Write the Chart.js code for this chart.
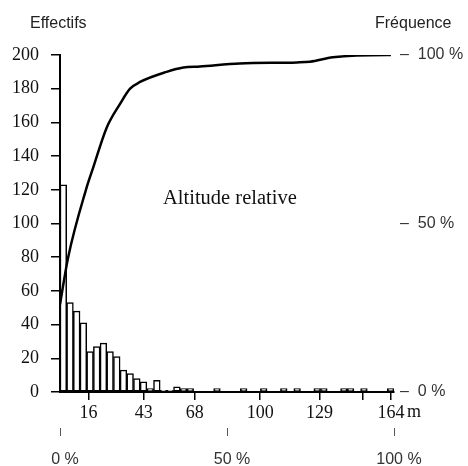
<!DOCTYPE html>
<html>
<head>
<meta charset="utf-8">
<script src="https://cdn.jsdelivr.net/npm/chart.js@4/dist/chart.umd.min.js"></script>
<style>
  html, body { margin: 0; padding: 0; background: #fff; }
  .wrap { position: relative; width: 468px; height: 466px; }
  canvas { position: absolute; left: 0; top: 0; }
  .lbl { position: absolute; font-family: 'Liberation Sans', sans-serif; font-size: 16px; line-height: 16px; color: #222; white-space: nowrap; }
  .mid { position: absolute; font-family: 'Liberation Serif', serif; font-size: 20.5px; line-height: 20px; color: #111; white-space: nowrap; }
</style>
</head>
<body>
<div class="wrap">
  <canvas id="histo" width="468" height="466"></canvas>
  <div class="lbl" style="left:30px; top:15px;">Effectifs</div>
  <div class="lbl" style="left:375px; top:15px;">Fréquence</div>
  <div class="mid" style="left:163px; top:187px;">Altitude relative</div>
</div>
<script>
// effectifs par classe d'altitude (50 classes)
const effectifs = [
  123, 53, 48, 41, 24, 27, 29, 24, 21, 13,
  11, 8, 6, 2, 7, 1, 1, 3, 2, 2,
  0, 0, 0, 2, 0, 0, 0, 2, 0, 0,
  2, 0, 0, 2, 0, 2, 0, 0, 2, 2,
  0, 0, 2, 2, 0, 2, 0, 0, 0, 2
];
// courbe cumulée : altitude (m) et fréquence (%)
const courbeAlt = [2, 6, 14.7, 18.2, 24.9, 31.4, 36.3, 41.2, 54.2, 62.4, 70.5, 90, 118, 124.4, 135.6, 162, 164];
const courbeFreq = [26, 40, 60, 66.5, 78.5, 85.5, 90, 92, 95, 96.3, 96.6, 97.5, 97.8, 98, 99.3, 100, 100];
// graduations
const gradAlt = [16, 43, 68, 100, 129, 150, 164];
const gradAltSansLabel = [150];
const gradEffectifs = [0, 20, 40, 60, 80, 100, 120, 140, 160, 180, 200];
const gradFreq = [0, 50, 100];

const SERIF = "'Liberation Serif', 'Times New Roman', serif";
const SANS = "'Liberation Sans', Arial, sans-serif";

// unité "m" à droite du dernier label
const uniteM = {
    id: 'uniteM',
    afterDraw(chart) {
        const sx = chart.scales.x;
        const ctx = chart.ctx;
        ctx.save();
        ctx.font = '18px ' + SERIF;
        ctx.fillStyle = '#111';
        ctx.textAlign = 'left';
        ctx.textBaseline = 'middle';
        ctx.fillText('m', sx.getPixelForValue(164) + 16, sx.top + 20);
        ctx.restore();
    }
};

new Chart(document.getElementById('histo'), {
    type: 'line',
    data: {
        labels: effectifs.map((_, i) => 'classe ' + (i + 1)),
        datasets: [{
            type: 'line',
            label: 'Fréquence cumulée',
            data: courbeAlt.map((a, i) => ({ x: a, y: courbeFreq[i] })),
            xAxisID: 'x',
            yAxisID: 'yr',
            borderColor: '#000',
            borderWidth: 2.5,
            pointRadius: 0,
            cubicInterpolationMode: 'monotone',
            fill: false,
            order: 0
        }, {
            type: 'bar',
            label: 'Effectifs',
            data: effectifs,
            xAxisID: 'xb',
            yAxisID: 'y',
            backgroundColor: '#fff',
            borderColor: '#000',
            borderWidth: 1.5,
            borderSkipped: false,
            grouped: false,
            barPercentage: 1,
            categoryPercentage: 1,
            order: 1
        }]
    },
    options: {
        responsive: false,
        animation: false,
        layout: { padding: { top: 55, left: 0, right: 0, bottom: 0 } },
        plugins: {
            legend: { display: false },
            tooltip: { enabled: false }
        },
        scales: {
            xb: {
                type: 'category',
                display: false,
                offset: true
            },
            x: {
                type: 'linear',
                position: 'bottom',
                min: 2,
                max: 165.5,
                offset: false,
                afterBuildTicks: s => { s.ticks = gradAlt.map(v => ({ value: v })); },
                afterFit: s => { s.height = 36; },
                border: { display: true, color: '#000', width: 2 },
                grid: { drawOnChartArea: false, offset: false, color: '#000', lineWidth: 1.5, tickLength: 8 },
                ticks: {
                    autoSkip: false,
                    maxRotation: 0,
                    padding: 2,
                    color: '#111',
                    font: { family: SERIF, size: 18 },
                    callback: v => gradAltSansLabel.includes(v) ? '' : String(v)
                }
            },
            xp: {
                type: 'linear',
                position: 'bottom',
                min: 0,
                max: 100,
                offset: false,
                afterBuildTicks: s => { s.ticks = gradFreq.map(v => ({ value: v })); },
                afterFit: s => { s.height = 38; },
                border: { display: false },
                grid: { drawOnChartArea: false, offset: false, color: '#555', lineWidth: 1, tickLength: 8 },
                ticks: {
                    autoSkip: false,
                    maxRotation: 0,
                    padding: 14,
                    labelOffset: 5,
                    color: '#333',
                    font: { family: SANS, size: 16 },
                    callback: v => v + ' %'
                }
            },
            y: {
                position: 'left',
                min: 0,
                max: 200,
                afterBuildTicks: s => { s.ticks = gradEffectifs.map(v => ({ value: v })); },
                afterFit: s => { s.width = 60; },
                border: { display: true, color: '#000', width: 2 },
                grid: { drawOnChartArea: false, color: '#000', lineWidth: 1.5, tickLength: 9 },
                ticks: {
                    padding: 12,
                    color: '#111',
                    font: { family: SERIF, size: 18 }
                }
            },
            yr: {
                position: 'right',
                min: 0,
                max: 100,
                afterBuildTicks: s => { s.ticks = gradFreq.map(v => ({ value: v })); },
                afterFit: s => { s.width = 74; },
                border: { display: false },
                grid: { display: false, drawTicks: false },
                ticks: {
                    padding: 6,
                    color: '#333',
                    font: { family: SANS, size: 16 },
                    callback: v => '–  ' + v + ' %'
                }
            }
        }
    },
    plugins: [uniteM]
});
</script>
</body>
</html>
